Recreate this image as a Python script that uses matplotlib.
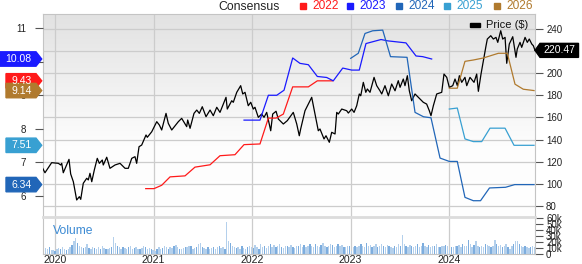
import numpy as np
import matplotlib.pyplot as plt
from matplotlib.patches import Polygon, Rectangle
from matplotlib.colors import LinearSegmentedColormap

plt.rcParams['font.family'] = ['Liberation Sans', 'DejaVu Sans']

# ---- data (decimal years) ----
price_t = [2019.875, 2019.898, 2019.966, 2020.034, 2020.058, 2020.068, 2020.084, 2020.142, 2020.159, 2020.186,
           2020.220, 2020.247, 2020.261, 2020.287, 2020.322, 2020.338, 2020.355, 2020.373, 2020.399, 2020.429,
           2020.450, 2020.480, 2020.490, 2020.525, 2020.558, 2020.609, 2020.660, 2020.711, 2020.744, 2020.779,
           2020.812, 2020.829, 2020.853, 2020.880, 2020.924, 2020.937, 2020.982, 2021.033, 2021.059, 2021.083,
           2021.127, 2021.150, 2021.185, 2021.252, 2021.286, 2021.337, 2021.347, 2021.371, 2021.411, 2021.439,
           2021.465, 2021.495, 2021.533, 2021.574, 2021.607, 2021.642, 2021.675, 2021.709, 2021.736, 2021.749,
           2021.794, 2021.810, 2021.845, 2021.885, 2021.906, 2021.929, 2021.962, 2021.987, 2022.013, 2022.030,
           2022.064, 2022.098, 2022.122, 2022.149, 2022.190, 2022.210, 2022.244, 2022.267, 2022.318, 2022.358,
           2022.419, 2022.454, 2022.480, 2022.494, 2022.538, 2022.606, 2022.640, 2022.673, 2022.690, 2022.731,
           2022.751, 2022.785, 2022.809, 2022.843, 2022.860, 2022.876, 2022.911, 2022.961, 2022.978, 2023.012,
           2023.036, 2023.063, 2023.089, 2023.104, 2023.130, 2023.155, 2023.171, 2023.198, 2023.239, 2023.266,
           2023.299, 2023.317, 2023.350, 2023.384, 2023.418, 2023.452, 2023.485, 2023.503, 2023.536, 2023.553,
           2023.577, 2023.597, 2023.621, 2023.655, 2023.688, 2023.739, 2023.773, 2023.800, 2023.817, 2023.841,
           2023.875, 2023.926, 2023.949, 2023.977, 2024.003, 2024.038, 2024.061, 2024.085, 2024.105, 2024.129,
           2024.162, 2024.180, 2024.213, 2024.254, 2024.281, 2024.298, 2024.325, 2024.355, 2024.376, 2024.389,
           2024.424, 2024.450, 2024.477, 2024.495, 2024.525, 2024.545, 2024.569, 2024.586, 2024.612, 2024.647,
           2024.680, 2024.693, 2024.721, 2024.738, 2024.772, 2024.795, 2024.815, 2024.840, 2024.856, 2024.873]
price_v = [114.0, 110.0, 119.1, 118.5, 117.0, 118.5, 110.0, 122.1, 108.9, 101.9,
           85.4, 88.4, 86.0, 100.5, 105.0, 103.5, 109.5, 101.9, 112.5, 123.0,
           118.5, 121.5, 117.0, 124.0, 114.0, 117.0, 118.5, 114.0, 114.0, 123.0,
           124.5, 118.5, 133.5, 135.0, 144.1, 142.0, 147.0, 156.1, 153.1, 148.6,
           163.6, 154.6, 148.6, 156.1, 159.1, 151.6, 157.6, 150.1, 163.6, 166.6,
           163.6, 169.6, 160.6, 166.6, 161.5, 169.1, 164.5, 172.0, 178.1, 167.5,
           175.0, 173.6, 182.6, 188.6, 181.1, 182.6, 170.5, 173.6, 167.5, 169.1,
           160.0, 163.0, 160.0, 164.5, 147.9, 163.0, 165.5, 158.5, 154.0, 157.0,
           164.5, 154.0, 143.4, 149.5, 166.0, 178.1, 163.0, 147.9, 149.5, 140.5,
           143.4, 137.5, 146.5, 145.0, 164.5, 163.0, 167.5, 166.0, 163.9, 167.5,
           164.5, 170.5, 181.1, 179.5, 191.6, 182.6, 185.6, 182.6, 196.1, 188.6,
           184.0, 181.1, 188.6, 179.5, 190.1, 184.0, 193.1, 187.1, 194.6, 188.6,
           197.6, 184.0, 175.0, 181.1, 178.1, 173.6, 172.0, 166.0, 161.5, 170.5,
           181.1, 182.6, 199.1, 196.1, 187.1, 188.6, 194.6, 188.6, 197.6, 191.6,
           196.1, 188.6, 196.1, 191.6, 199.1, 183.5, 199.1, 214.2, 224.7, 230.7,
           233.7, 230.7, 232.2, 227.7, 238.2, 230.7, 232.2, 208.8, 226.2, 232.8,
           214.2, 221.7, 227.7, 223.2, 232.2, 227.7, 230.7, 226.2, 224.7, 220.47]

eps22_t = [2020.921, 2021.005, 2021.083, 2021.168, 2021.320, 2021.421, 2021.574, 2021.675, 2021.827,
           2021.919, 2022.081, 2022.166, 2022.244, 2022.318, 2022.413, 2022.572, 2022.663, 2022.819]
eps22_v = [6.22, 6.22, 6.32, 6.57, 6.60, 6.86, 6.93, 7.20, 7.23,
           7.53, 7.55, 8.32, 8.32, 8.44, 9.25, 9.25, 9.43, 9.43]

eps23_t = [2021.919, 2022.081, 2022.166, 2022.251, 2022.325, 2022.413, 2022.487, 2022.572, 2022.663,
           2022.758, 2022.825, 2022.921, 2023.012, 2023.089, 2023.157, 2023.310, 2023.378, 2023.563,
           2023.665, 2023.733, 2023.824]
eps23_v = [8.26, 8.26, 9.00, 9.00, 9.15, 10.11, 9.95, 9.91, 9.56,
           9.53, 9.43, 9.81, 9.75, 9.75, 10.54, 10.66, 10.62, 10.56,
           10.17, 10.15, 10.08]

eps24_t = [2023.002, 2023.079, 2023.147, 2023.225, 2023.327, 2023.406, 2023.574, 2023.655, 2023.741,
           2023.817, 2023.909, 2024.003, 2024.084, 2024.162, 2024.247, 2024.320, 2024.411, 2024.574,
           2024.667, 2024.863]
eps24_v = [10.10, 10.25, 10.84, 10.92, 10.94, 10.15, 10.13, 8.49, 8.36,
           8.33, 7.13, 7.03, 7.03, 5.96, 5.86, 5.86, 6.24, 6.26,
           6.34, 6.34]

eps25_t = [2024.003, 2024.084, 2024.162, 2024.247, 2024.332, 2024.416, 2024.569, 2024.660, 2024.863]
eps25_v = [8.59, 8.62, 7.70, 7.62, 7.62, 8.02, 8.02, 7.51, 7.51]

eps26_t = [2024.003, 2024.084, 2024.162, 2024.247, 2024.348, 2024.501, 2024.592, 2024.670, 2024.754, 2024.863]
eps26_v = [9.21, 9.21, 10.01, 10.05, 10.11, 10.25, 10.25, 9.33, 9.18, 9.14]

# weekly volume in thousands, starting mid-Nov 2019
vol_start = 2019.885
vol_k = [8, 10, 9, 11, 7, 6, 5,
         9, 10, 8, 12, 9, 7, 8, 12, 15, 22, 27, 18, 14, 12, 10, 11, 16, 10, 9, 12, 10, 8, 11, 9, 13, 10,
         9, 8, 10, 12, 29, 18, 13, 11, 9, 12, 10, 8, 11, 13, 9, 10, 12, 9, 8, 10, 14, 11, 9, 10, 8, 7,
         5, 9, 11, 8, 10, 14, 12, 9, 11, 10, 13, 15, 11, 9, 8, 10, 12, 11, 14, 13, 9, 10, 12, 16, 18, 12,
         10, 8, 11, 9, 10, 12, 9, 11, 13, 10, 12, 9, 54, 22, 18, 14, 12, 10, 11, 9, 13, 10, 9, 12, 14, 11,
         10, 15, 12, 9, 16, 11, 13, 10, 14, 17, 12, 15, 11, 13, 16, 12, 10, 14, 13, 11, 15, 12, 10, 14, 13, 16,
         12, 15, 11, 13, 17, 14, 12, 16, 13, 11, 15, 18, 14, 12, 13, 17, 15, 12, 14, 16, 13, 15, 12, 11, 14, 13,
         5, 11, 14, 12, 13, 16, 14, 12, 18, 13, 15, 11, 13, 16, 12, 14, 17, 13, 11, 15, 14, 12, 10, 13, 12, 16,
         14, 32, 16, 13, 12, 15, 14, 11, 13, 16, 12, 14, 18, 13, 11, 15, 12, 14, 13, 16, 12, 11, 14, 13, 15, 14,
         7, 11, 12, 14, 13, 15, 12, 17, 14, 13, 24, 16, 12, 15, 21, 13, 11, 14, 12, 16, 15, 13, 12, 14, 24, 16,
         13, 15, 12, 14, 16, 11, 9, 13, 17, 22, 21, 16, 14, 12, 13, 11, 10, 12, 13, 11]

years = [2020, 2021, 2022, 2023, 2024]
series = [('2022', '#ff1a1a', eps22_t, eps22_v),
          ('2023', '#1a1aff', eps23_t, eps23_v),
          ('2024', '#2166b8', eps24_t, eps24_v),
          ('2025', '#38a0d2', eps25_t, eps25_v),
          ('2026', '#b07a2e', eps26_t, eps26_v)]

# ---- layout in pixels ----
W, H = 582, 264
def rect(l, t, r, b):
    return [l / W, 1 - b / H, (r - l) / W, (b - t) / H]

fig = plt.figure(figsize=(W / 100, H / 100), dpi=100)
fig.patch.set_facecolor('white')

xlim = (2019.875, 2024.873)
spine_c = '#c4c4c4'
tick_kw = dict(length=6, width=0.8, color='#555555', labelsize=7, labelcolor='#222222')

# main panel (price axis on the right, gridlines)
ax_p = fig.add_axes(rect(42.7, 14, 535, 217))
cmap = LinearSegmentedColormap.from_list('bg', [(0, '#e2e2e2'), (0.65, '#fdfdfd'), (1, '#ffffff')])
grad = np.linspace(0, 1, 256).reshape(-1, 1)
ax_p.imshow(grad, cmap=cmap, aspect='auto', extent=[0, 1, 0, 1], origin='upper',
            transform=ax_p.transAxes, zorder=0)
ax_p.set_xlim(*xlim)
ax_p.set_ylim(70.05, 253.3)
ax_p.set_xticks(years)
ax_p.tick_params(axis='x', length=0, labelbottom=False)
ax_p.grid(True, color='#cccccc', lw=0.9)
ax_p.set_axisbelow(True)
for s in ['left', 'top', 'right']:
    ax_p.spines[s].set_color(spine_c)
ax_p.spines['bottom'].set_visible(False)
ax_p.plot(price_t, price_v, color='black', lw=0.9, zorder=3)

# EPS axis on the left (twinx moves the original ticks, so set sides afterwards)
ax_e = ax_p.twinx()
ax_e.set_ylim(5.375, 11.42)
ax_e.set_xlim(*xlim)
ax_e.yaxis.tick_left()
ax_e.yaxis.set_label_position('left')
ax_e.set_yticks(range(6, 12))
ax_e.tick_params(axis='y', pad=6, **tick_kw)
for s in ax_e.spines.values():
    s.set_visible(False)
for name, col, t, v in series:
    ax_e.plot(t, v, color=col, lw=0.9)

ax_p.yaxis.tick_right()
ax_p.set_yticks(range(80, 241, 20))
ax_p.tick_params(axis='y', pad=2, **tick_kw)

# volume panel
ax_v = fig.add_axes(rect(42.7, 217, 535, 254))
vol_t = vol_start + np.arange(len(vol_k)) / 52.18
bar_cols = ['#b4d0ec' if i % 3 else '#7dadde' for i in range(len(vol_k))]
ax_v.bar(vol_t, vol_k, width=0.014, color=bar_cols, linewidth=0)
ax_v.set_xlim(*xlim)
ax_v.set_ylim(0, 61.7)
ax_v.set_xticks(years)
ax_v.set_xticklabels([str(y) for y in years])
ax_v.tick_params(axis='x', length=0, labelsize=7.6, pad=1, labelcolor='#222222')
ax_v.yaxis.tick_right()
ax_v.set_yticks(range(0, 61, 10))
ax_v.set_yticklabels(['0', '10k', '20k', '30k', '40k', '50k', '60k'])
ax_v.tick_params(axis='y', pad=2, **tick_kw)
ax_v.grid(True, axis='x', color='#cccccc', lw=0.9)
ax_v.set_axisbelow(True)
for s in ['left', 'right', 'bottom']:
    ax_v.spines[s].set_color(spine_c)
ax_v.spines['top'].set_color('#dcdcdc')
ax_v.spines['top'].set_linewidth(2)
ax_v.text(0.02, 0.55, 'Volume', transform=ax_v.transAxes, color='#3d8bd4', fontsize=8.7)

# ---- titles / legends ----
fig.text(249.5 / W, 1 - 10 / H, 'Consensus', fontsize=8.8, color='#222222', ha='center', va='baseline')
leg_x = [312, 359, 408, 456, 506]
for (name, col, t, v), lx in zip(series, leg_x):
    fig.patches.append(Rectangle(((lx - 12) / W, 1 - 9 / H), 6 / W, 6 / H, transform=fig.transFigure,
                                 color=col, figure=fig))
    fig.text(lx / W, 1 - 9 / H, name, fontsize=8.6, color=col, ha='left', va='baseline')
fig.patches.append(Rectangle((470 / W, 1 - 26.5 / H), 10 / W, 4 / H, transform=fig.transFigure,
                             color='black', figure=fig))
fig.text(486 / W, 1 - 28.5 / H, 'Price ($)', fontsize=8, color='#111111', ha='left', va='baseline')

# ---- value tags ----
fig.canvas.draw()
fh = fig.bbox.height

def left_tag(val, col, x0):
    yc = ax_e.transData.transform((xlim[1], val))[1]
    h = 7.2
    pts = [(x0, yc - h), (36, yc - h), (41.7, yc), (36, yc + h), (x0, yc + h)]
    fig.patches.append(Polygon([(px / W, py / fh) for px, py in pts], closed=True,
                               transform=fig.transFigure, color=col, figure=fig, zorder=5))
    fig.text(((x0 + 36) / 2 + 0.5) / W, yc / fh, '%.2f' % val, color='white', fontsize=7.5,
             ha='center', va='center', zorder=6)

left_tag(eps23_v[-1], '#1a1aff', 0)
left_tag(eps22_v[-1], '#ff1a1a', 6)
left_tag(eps26_v[-1], '#b07a2e', 6)
left_tag(eps25_v[-1], '#38a0d2', 6)
left_tag(eps24_v[-1], '#2166b8', 6)

yc = ax_p.transData.transform((xlim[1], price_v[-1]))[1]
h = 7
pts = [(535, yc), (540, yc - h), (578.5, yc - h), (578.5, yc + h), (540, yc + h)]
fig.patches.append(Polygon([(px / W, py / fh) for px, py in pts], closed=True,
                           transform=fig.transFigure, color='black', figure=fig, zorder=5))
fig.text(559.5 / W, yc / fh, '%.2f' % price_v[-1], color='white', fontsize=7.5,
         ha='center', va='center', zorder=6)

fig.savefig('out.png', dpi=100)
